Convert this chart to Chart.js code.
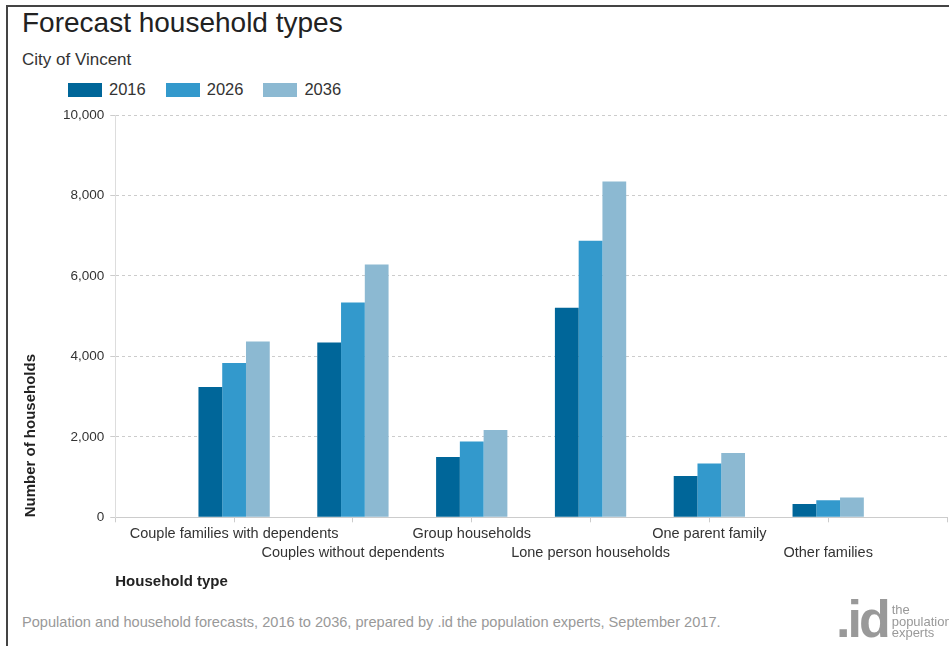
<!DOCTYPE html>
<html>
<head>
<meta charset="utf-8">
<script src="https://cdn.jsdelivr.net/npm/chart.js@4"></script>
<style>
  body { margin: 0; background: #fff; font-family: "Liberation Sans", Arial, sans-serif; }
  #frame { position: relative; width: 949px; height: 646px; overflow: hidden; }
  #edge { position: absolute; left: 6px; top: 5px; right: -5px; bottom: -5px; border-left: 2px solid #444; border-top: 2px solid #444; }
  #titulo { position: absolute; left: 22px; top: 7px; font-size: 28px; color: #222; }
  #subtitulo { position: absolute; left: 22px; top: 50px; font-size: 17px; color: #333; }
  #leyenda { position: absolute; left: 68px; top: 80px; font-size: 16.5px; color: #333; display: flex; }
  .item { display: flex; align-items: center; margin-right: 20px; }
  .caja { width: 34px; height: 14px; margin-right: 7px; }
  #lienzo { position: absolute; left: 0; top: 100px; width: 949px; height: 500px; }
  #pie { position: absolute; left: 22px; top: 614px; font-size: 14.6px; color: #999; }
  #logo { position: absolute; left: 836px; top: 592px; color: #999; display: flex; }
  #logo .id { font-size: 52px; font-weight: bold; line-height: 54px; letter-spacing: -3px; }
  #logo .txt { font-size: 13px; line-height: 11.5px; margin-left: 4px; margin-top: 12px; }
</style>
</head>
<body>
<div id="frame">
  <div id="edge"></div>
  <div id="titulo">Forecast household types</div>
  <div id="subtitulo">City of Vincent</div>
  <div id="leyenda"></div>
  <div id="lienzo"><canvas id="grafico"></canvas></div>
  <div id="pie">Population and household forecasts, 2016 to 2036, prepared by .id the population experts, September 2017.</div>
  <div id="logo"><div class="id">.id</div><div class="txt">the<br>population<br>experts</div></div>
</div>
<script>
// Tipos de hogar (con huecos vacíos al principio y al final, como en el original)
const tiposHogar = ['', 'Couple families with dependents', 'Couples without dependents', 'Group households',
    'Lone person households', 'One parent family', 'Other families', ''];
const anios = ['2016', '2026', '2036'];
const hogares2016 = [null, 3240, 4345, 1500, 5207, 1028, 331, null];
const hogares2026 = [null, 3838, 5340, 1883, 6873, 1335, 423, null];
const hogares2036 = [null, 4370, 6286, 2172, 8350, 1600, 490, null];
const ticksY = [0, 2000, 4000, 6000, 8000, 10000];
const colores = ['#006699', '#3399cc', '#8cb9d2'];

// Leyenda en HTML
const leyenda = document.getElementById('leyenda');
anios.forEach((anio, i) => {
    const item = document.createElement('div');
    item.classList.add('item');
    item.innerHTML = `<div class="caja" style="background:${colores[i]}"></div><span>${anio}</span>`;
    leyenda.appendChild(item);
});

const series = [hogares2016, hogares2026, hogares2036];

const ctx = document.getElementById('grafico').getContext('2d');
const myChart = new Chart(ctx, {
    type: 'bar',
    data: {
        labels: tiposHogar,
        datasets: series.map((datos, i) => ({
            label: anios[i],
            data: datos,
            backgroundColor: colores[i],
            borderWidth: 0,
            categoryPercentage: 0.6,
            barPercentage: 1.0
        }))
    },
    options: {
        responsive: true,
        maintainAspectRatio: false,
        animation: false,
        layout: { padding: { left: 16, top: 15, right: 0, bottom: 9 } },
        plugins: {
            legend: { display: false },
            tooltip: { enabled: false }
        },
        scales: {
            x: {
                offset: false,
                grid: { offset: false, drawOnChartArea: false, color: '#ccc', tickLength: 5 },
                border: { display: true, color: '#ccc' },
                ticks: {
                    autoSkip: false,
                    maxRotation: 0,
                    padding: 2,
                    color: '#333',
                    font: { family: 'Liberation Sans', size: 14.5, lineHeight: 1.3 },
                    callback: function (value, index) {
                        const texto = tiposHogar[index];
                        return index % 2 === 0 ? ['', texto] : [texto];
                    }
                },
                title: {
                    display: true,
                    text: 'Household type',
                    align: 'start',
                    color: '#222',
                    padding: { top: 9, bottom: 0 },
                    font: { family: 'Liberation Sans', size: 15, weight: 'bold', lineHeight: 1.2 }
                }
            },
            y: {
                min: 0,
                max: 10000,
                afterBuildTicks: (eje) => { eje.ticks = ticksY.map(v => ({ value: v })); },
                grid: { color: '#ccc', tickLength: 5 },
                border: { display: true, color: '#ddd', dash: [3, 3] },
                ticks: {
                    padding: 6,
                    color: '#333',
                    font: { family: 'Liberation Sans', size: 13.5 },
                    callback: (v) => v.toLocaleString('en-US')
                },
                title: {
                    display: true,
                    text: 'Number of households',
                    align: 'start',
                    color: '#222',
                    padding: { top: 6, bottom: 17 },
                    font: { family: 'Liberation Sans', size: 15, weight: 'bold', lineHeight: 1.2 }
                }
            }
        }
    }
});
</script>
</body>
</html>
